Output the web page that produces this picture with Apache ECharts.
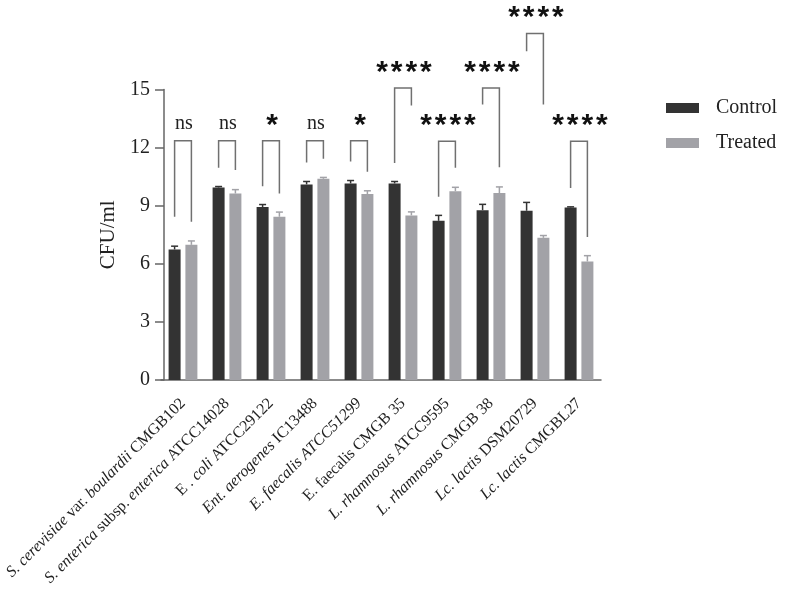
<!DOCTYPE html>
<html>
<head>
<meta charset="utf-8">
<script src="https://cdn.jsdelivr.net/npm/echarts@6/dist/echarts.min.js"></script>
<style>
  html, body { margin: 0; padding: 0; background: #fff; }
  #chart { width: 785px; height: 594px; }
</style>
</head>
<body>
<div id="chart"></div>
<script>
// strains on the x axis
const categories = [
  'S. cerevisiae var. boulardii CMGB102',
  'S. enterica subsp. enterica ATCC14028',
  'E . coli ATCC29122',
  'Ent. aerogenes IC13488',
  'E. faecalis ATCC51299',
  'E. faecalis CMGB 35',
  'L. rhamnosus ATCC9595',
  'L. rhamnosus CMGB 38',
  'Lc. lactis DSM20729',
  'Lc. lactis CMGBL27'
];
// same names with italic parts marked ({i|...} italic, {n|...} upright)
const categoryLabels = [
  '{i|S. cerevisiae}{n| var. }{i|boulardii}{n| CMGB102}',
  '{i|S. enterica}{n| subsp. }{i|enterica}{n| ATCC14028}',
  '{n|E . }{i|coli}{n| ATCC29122}',
  '{i|Ent. aerogenes}{n| IC13488}',
  '{i|E. faecalis ATCC51299}',
  '{n|E. faecalis CMGB 35}',
  '{i|L. rhamnosus}{n| ATCC9595}',
  '{i|L. rhamnosus}{n| CMGB 38}',
  '{i|Lc. lactis}{n| DSM20729}',
  '{i|Lc. lactis}{n| CMGBL27}'
];

const control    = [6.74, 9.94, 8.93, 10.10, 10.15, 10.15, 8.22, 8.77, 8.74, 8.91];
const controlErr = [0.17, 0.05, 0.13, 0.15, 0.15, 0.10, 0.28, 0.30, 0.43, 0.03];
const treated    = [6.98, 9.63, 8.43, 10.39, 9.60, 8.50, 9.75, 9.65, 7.34, 6.12];
const treatedErr = [0.20, 0.20, 0.24, 0.07, 0.17, 0.18, 0.20, 0.32, 0.12, 0.30];

// significance brackets (values in CFU/ml units)
const sigLabels    = ['ns', 'ns', '*', 'ns', '*', '****', '****', '****', '****', '****'];
const bracketTop   = [12.35, 12.35, 12.35, 12.35, 12.35, 15.08, 12.33, 15.08, 17.89, 12.33];
const bracketLeft  = [8.43, 10.96, 10.01, 11.23, 11.28, 11.21, 9.46, 14.22, 16.98, 9.92];
const bracketRight = [8.17, 10.84, 9.63, 11.42, 10.75, 14.17, 10.96, 10.98, 14.22, 7.39];

const yTicks = [0, 3, 6, 9, 12, 15];

const serif = '"Liberation Serif", "Times New Roman", serif';
const starFont = 'bold 30px "Liberation Sans", Arial, sans-serif';
const darkColor = '#333333';
const lightColor = '#a2a2a7';
const axisColor = '#666666';
const barOffset = 8.4; // px from category centre to each bar centre
const starPitch = 14.6;

const chart = echarts.init(document.getElementById('chart'));

function errorBar(offset, color) {
  return function (params, api) {
    const i = api.value(0);
    const base = api.coord([i, api.value(1)]);
    const top = api.coord([i, api.value(1) + api.value(2)]);
    const x = base[0] + offset;
    return {
      type: 'group',
      children: [
        { type: 'line', shape: { x1: x, y1: base[1], x2: x, y2: top[1] }, style: { stroke: color, lineWidth: 1.5 } },
        { type: 'line', shape: { x1: x - 3.5, y1: top[1], x2: x + 3.5, y2: top[1] }, style: { stroke: color, lineWidth: 1.5 } }
      ]
    };
  };
}

function bracket(params, api) {
  const i = api.value(0);
  const c = api.coord([i, api.value(1)]);
  const l = api.coord([i, api.value(2)]);
  const r = api.coord([i, api.value(3)]);
  const xl = c[0] - barOffset;
  const xr = c[0] + barOffset;
  const label = sigLabels[params.dataIndex];
  const children = [{
    type: 'polyline',
    shape: { points: [[xl, l[1]], [xl, c[1]], [xr, c[1]], [xr, r[1]]] },
    style: { stroke: '#707070', lineWidth: 1.5, fill: null }
  }];
  if (label === 'ns') {
    children.push({
      type: 'text',
      style: {
        x: c[0] + 1, y: c[1] - 17, text: label,
        textAlign: 'center', textVerticalAlign: 'middle',
        fill: '#222', font: '20px ' + serif
      }
    });
  } else {
    const n = label.length;
    for (let k = 0; k < n; k++) {
      children.push({
        type: 'text',
        style: {
          x: c[0] + 1 + (k - (n - 1) / 2) * starPitch, y: c[1] - 15.5, text: '*',
          textAlign: 'center', textVerticalAlign: 'middle',
          fill: '#111', font: starFont
        }
      });
    }
  }
  return { type: 'group', children: children };
}

const option = {
  backgroundColor: '#fff',
  animation: false,
  grid: { left: 161, width: 440, top: 89.5, height: 290.5 },
  legend: {
    orient: 'vertical',
    left: 661,
    top: 93,
    itemWidth: 33,
    itemHeight: 10,
    itemGap: 15,
    icon: 'rect',
    data: ['Control', 'Treated'],
    textStyle: { fontFamily: serif, fontSize: 20, color: '#222', padding: [0, 0, 0, 12] }
  },
  xAxis: {
    type: 'category',
    data: categories,
    axisLine: { lineStyle: { color: axisColor, width: 1.5 } },
    axisTick: { alignWithLabel: true, length: 10, lineStyle: { color: axisColor, width: 1.5 } },
    axisLabel: {
      rotate: 45,
      margin: 21,
      interval: 0,
      color: '#222',
      formatter: function (v, idx) { return categoryLabels[idx]; },
      rich: {
        i: { fontFamily: serif, fontSize: 16, fontStyle: 'italic', color: '#222' },
        n: { fontFamily: serif, fontSize: 16, color: '#222' }
      }
    }
  },
  yAxis: {
    type: 'value',
    min: yTicks[0],
    max: yTicks[yTicks.length - 1],
    interval: 3,
    offset: -3,
    name: 'CFU/ml',
    nameLocation: 'middle',
    nameGap: 40,
    nameTextStyle: { fontFamily: serif, fontSize: 21, color: '#222' },
    axisLine: { show: true, lineStyle: { color: axisColor, width: 1.5 } },
    axisTick: { show: true, length: 9, lineStyle: { color: axisColor, width: 1.5 } },
    axisLabel: { fontFamily: serif, fontSize: 20, color: '#222', margin: 14 },
    splitLine: { show: false }
  },
  series: [
    {
      name: 'Control',
      type: 'bar',
      data: control,
      barWidth: 12,
      barGap: '40%',
      itemStyle: { color: darkColor }
    },
    {
      name: 'Treated',
      type: 'bar',
      data: treated,
      barWidth: 12,
      itemStyle: { color: lightColor }
    },
    {
      type: 'custom',
      renderItem: errorBar(-barOffset, darkColor),
      data: control.map((v, i) => [i, v, controlErr[i]]),
      encode: { x: 0, y: 1 },
      z: 3
    },
    {
      type: 'custom',
      renderItem: errorBar(barOffset, lightColor),
      data: treated.map((v, i) => [i, v, treatedErr[i]]),
      encode: { x: 0, y: 1 },
      z: 3
    },
    {
      type: 'custom',
      renderItem: bracket,
      clip: false,
      data: bracketTop.map((v, i) => [i, v, bracketLeft[i], bracketRight[i]]),
      encode: { x: 0, y: 1 },
      z: 4
    }
  ]
};

chart.setOption(option);
</script>
</body>
</html>
